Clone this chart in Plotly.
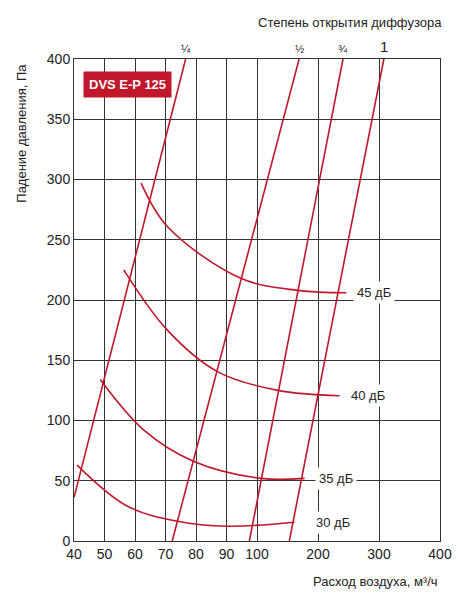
import plotly.graph_objects as go

# ось X: 40..100 шаг 10, затем 100..400 шаг 100 (равные деления ~ в 2 раза шире)
x_ticks = [40, 50, 60, 70, 80, 90, 100, 200, 300, 400]
y_ticks = [0, 50, 100, 150, 200, 250, 300, 350, 400]

def u(x):
    return (x - 40) / 10 if x <= 100 else 6 + 2 * (x - 100) / 100

# линии степени открытия диффузора (начало, конец)
diff_labels = ["¼", "½", "¾", "1"]
diff_x = [[40, 76.6], [72.2, 169], [97.5, 241], [153, 308]]
diff_y = [[36, 400], [0, 400], [0, 400], [0, 400]]

# кривые шума
noise_labels = ["45 дБ", "40 дБ", "35 дБ", "30 дБ"]
noise_x = [[62, 70.6, 94.7, 167, 246.5],
           [56.3, 70.6, 87, 134, 235.5],
           [48.6, 62.9, 79.3, 106.5, 178],
           [41, 57.4, 73.9, 90.3, 161.5]]
noise_y = [[297, 261, 218, 208, 206],
           [225, 175, 140.6, 125, 120.5],
           [134, 92, 66, 52, 52],
           [63, 29, 16.4, 12.3, 15.6]]
label_x = [258, 248, 195, 190]

RED = "#c0172b"
fig = go.Figure()
for xs, ys in zip(diff_x, diff_y):
    fig.add_trace(go.Scatter(x=[u(v) for v in xs], y=ys, mode="lines",
                             line=dict(color=RED, width=1.6), showlegend=False))
for xs, ys in zip(noise_x, noise_y):
    fig.add_trace(go.Scatter(x=[u(v) for v in xs], y=ys, mode="lines",
                             line=dict(color=RED, width=1.6, shape="spline"),
                             showlegend=False))

for lab, xs, ys in zip(noise_labels, label_x, noise_y):
    fig.add_annotation(x=u(xs), y=ys[-1], text=lab, showarrow=False,
                       xanchor="left", bgcolor="white", borderpad=3,
                       font=dict(size=13, color="#222"))
for lab, xs in zip(diff_labels, diff_x):
    fig.add_annotation(x=u(xs[1]), y=1.0, yref="paper", yanchor="bottom", yshift=2,
                       text=lab, showarrow=False,
                       font=dict(size=15 if lab == "1" else 11, color="#222"))

fig.add_annotation(x=1.0, y=1.055, xref="paper", yref="paper", xanchor="right",
                   yanchor="bottom", xshift=4, text="Степень открытия диффузора",
                   showarrow=False, font=dict(size=13, color="#222"))
fig.add_annotation(x=u(43), y=390, xanchor="left", yanchor="top",
                   text="<b>DVS E-P 125</b>", showarrow=False, bgcolor=RED,
                   borderpad=5, font=dict(size=13, color="white"))
fig.add_annotation(x=1.0, y=-0.065, xref="paper", yref="paper", xanchor="right",
                   yanchor="top", text="Расход воздуха, м³/ч", showarrow=False,
                   font=dict(size=13, color="#222"))
fig.add_annotation(x=0, y=0.845, xref="paper", yref="paper", xshift=-52,
                   xanchor="center", yanchor="middle", textangle=-90,
                   text="Падение давления, Па", showarrow=False,
                   font=dict(size=13, color="#222"))

fig.update_xaxes(range=[0, 12], tickvals=[u(v) for v in x_ticks],
                 ticktext=[str(v) for v in x_ticks], showgrid=True,
                 gridcolor="#333", gridwidth=1, showline=True, linecolor="#333",
                 mirror=True, zeroline=False, ticks="", automargin=False,
                 tickfont=dict(size=14, color="#222"))
fig.update_yaxes(range=[0, 400], tickvals=y_ticks, showgrid=True,
                 gridcolor="#333", gridwidth=1, showline=True, linecolor="#333",
                 mirror=True, zeroline=False, ticks="", automargin=False,
                 tickfont=dict(size=14, color="#222"))
fig.update_layout(width=475, height=600, margin=dict(l=66, r=43, t=51, b=67),
                  plot_bgcolor="white", paper_bgcolor="white",
                  font=dict(family="Arial, Liberation Sans, sans-serif"))
fig.write_html("out.html")
